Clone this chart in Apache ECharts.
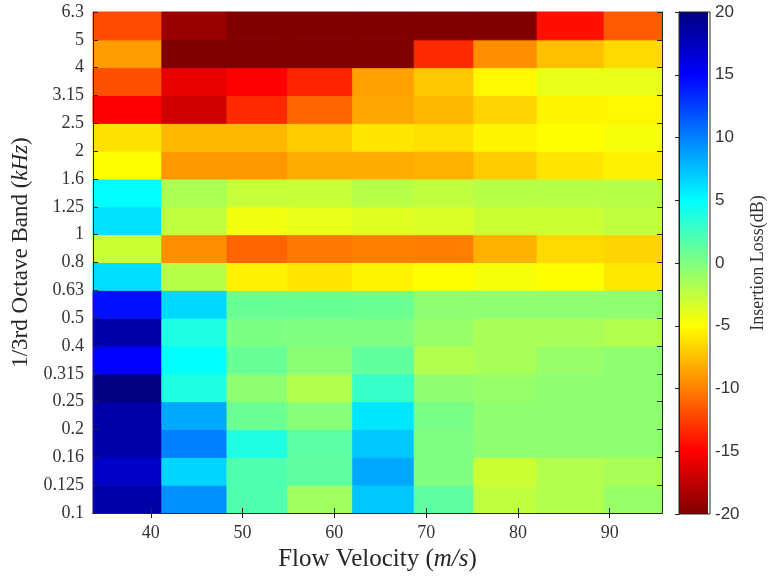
<!DOCTYPE html>
<html>
<head>
<meta charset="utf-8">
<script src="https://cdn.jsdelivr.net/npm/echarts@6/dist/echarts.min.js"></script>
<style>html,body{margin:0;padding:0;background:#fff}#c{width:768px;height:577px}</style>
</head>
<body>
<div id="c"></div>
<script>
// Velocity cell edges (m/s) and 1/3-octave band edge labels (kHz)
const velocityEdges = [33.7, 41.2, 48.3, 54.9, 62.0, 68.7, 75.2, 82.1, 89.4, 95.7];
const bandLabels = ['0.1','0.125','0.16','0.2','0.25','0.315','0.4','0.5','0.63','0.8','1','1.25','1.6','2','2.5','3.15','4','5','6.3'];
const xTickValues = [40, 50, 60, 70, 80, 90];
const colorbarRange = [-20, 20];
// Insertion loss (dB), one row per band (bottom band first), one value per velocity cell
const lossByBand = [
  [18.4,  9.4,   1.9,  -1.3,  7.2,   1.3,  -2.5, -2.0, -0.9],
  [17.2,  6.6,   1.9,   1.3,  8.4,   0.0,  -3.0, -2.0, -1.6],
  [18.4, 10.0,   3.8,   1.4,  7.2,   0.0,  -0.6, -0.6, -0.6],
  [18.4,  8.4,   0.8,  -0.3,  6.0,   0.3,  -0.6, -0.6, -0.6],
  [20.0,  3.8,  -0.6,  -2.0,  2.8,  -0.6,  -0.9, -0.6, -0.6],
  [15.0,  5.0,   0.9,  -0.4,  1.2,  -2.0,  -1.6, -0.9, -0.6],
  [18.4,  3.8,   0.1,   0.0,  0.0,  -0.9,  -1.6, -1.6, -2.0],
  [14.4,  6.5,   0.9,   0.9,  0.8,  -0.6,  -0.6, -0.6, -0.6],
  [ 6.3, -2.2,  -5.5,  -6.0, -5.4,  -5.0,  -4.6, -5.0, -5.9],
  [-3.0, -9.4, -11.1, -10.3, -10.0, -10.1, -8.1, -6.5, -6.7],
  [ 6.2, -2.5,  -4.4,  -4.1, -3.7,  -3.5,  -3.0, -3.0, -2.5],
  [ 5.0, -1.7,  -2.8,  -2.8, -2.2,  -2.5,  -2.2, -2.2, -2.2],
  [-5.0, -9.1,  -9.1,  -8.3, -8.3,  -8.1,  -7.0, -6.0, -5.5],
  [-6.2, -7.8,  -7.8,  -7.0, -6.0,  -6.2,  -5.4, -5.0, -4.6],
  [-15.0,-16.9, -13.4, -11.1, -8.5, -7.8,  -6.7, -5.4, -5.3],
  [-11.9,-15.9, -15.0, -13.6, -8.7, -7.2,  -5.3, -4.1, -4.1],
  [-8.9, -20.0, -20.0, -20.0, -20.0, -13.4, -9.4, -7.5, -6.5],
  [-12.1,-19.0, -20.0, -20.0, -20.0, -20.0, -20.0, -14.4, -11.5]
];
const jetReversed = ['#800000','#ff0000','#ff8000','#ffff00','#80ff80','#00ffff','#0080ff','#0000ff','#000080'];

const cells = [];
lossByBand.forEach((row, r) => {
  row.forEach((v, c) => {
    cells.push([velocityEdges[c], velocityEdges[c + 1], r, r + 1, v]);
  });
});

const AX = '#262626';
const serif = 'Liberation Serif';
const chart = echarts.init(document.getElementById('c'), null, {renderer: 'canvas'});

chart.setOption({
  backgroundColor: '#fff',
  animation: false,
  grid: [
    {left: 93, top: 12, width: 569, height: 502, containLabel: false},
    {left: 679, top: 12, width: 31, height: 502, containLabel: false}
  ],
  visualMap: {
    type: 'continuous', show: false, min: -20, max: 20, dimension: 4,
    seriesIndex: 0, inRange: {color: jetReversed}
  },
  xAxis: [
    {
      gridIndex: 0, type: 'value', min: velocityEdges[0], max: velocityEdges[velocityEdges.length - 1],
      position: 'bottom', z: 10,
      axisLine: {show: true, lineStyle: {color: AX, width: 1}},
      axisTick: {show: true, inside: true, length: 5, customValues: xTickValues, lineStyle: {color: AX}},
      axisLabel: {customValues: xTickValues, fontFamily: serif, fontSize: 18, color: '#333', margin: 11},
      splitLine: {show: false},
      name: '{n|Flow Velocity (}{i|m/s}{n|)}', nameLocation: 'middle', nameGap: 34,
      nameTextStyle: {rich: {
        n: {fontFamily: serif, fontSize: 25, color: '#262626'},
        i: {fontFamily: serif, fontSize: 25, fontStyle: 'italic', color: '#262626'}
      }}
    },
    {
      gridIndex: 0, type: 'value', min: velocityEdges[0], max: velocityEdges[velocityEdges.length - 1],
      position: 'top', z: 10,
      axisLine: {show: true, lineStyle: {color: AX, width: 1}},
      axisTick: {show: true, inside: true, length: 5, customValues: xTickValues, lineStyle: {color: AX}},
      axisLabel: {show: false}, splitLine: {show: false}
    },
    {gridIndex: 1, type: 'value', min: 0, max: 1, show: false}
  ],
  yAxis: [
    {
      gridIndex: 0, type: 'value', min: 0, max: 18, interval: 1, position: 'left', z: 10,
      axisLine: {show: true, lineStyle: {color: AX, width: 1}},
      axisTick: {show: true, inside: true, length: 5, lineStyle: {color: AX}},
      axisLabel: {formatter: v => bandLabels[Math.round(v)], fontFamily: serif, fontSize: 18, color: '#333', margin: 9},
      splitLine: {show: false},
      name: '{n|1/3rd Octave Band (}{i|kHz}{n|)}', nameLocation: 'middle', nameGap: 60,
      nameTextStyle: {padding: [0, 0, 0, 20], rich: {
        n: {fontFamily: serif, fontSize: 23, color: '#262626'},
        i: {fontFamily: serif, fontSize: 23, fontStyle: 'italic', color: '#262626'}
      }}
    },
    {
      gridIndex: 0, type: 'value', min: 0, max: 18, interval: 1, position: 'right', z: 10,
      axisLine: {show: true, lineStyle: {color: AX, width: 1}},
      axisTick: {show: true, inside: true, length: 5, lineStyle: {color: AX}},
      axisLabel: {show: false}, splitLine: {show: false}
    },
    {
      gridIndex: 1, type: 'value', min: colorbarRange[0], max: colorbarRange[1], interval: 5, position: 'right', z: 10,
      axisLine: {show: true, lineStyle: {color: AX, width: 1}},
      axisTick: {show: true, inside: true, length: 4, lineStyle: {color: AX}},
      axisLabel: {fontFamily: 'Liberation Sans', fontSize: 17, color: '#333', margin: 7},
      splitLine: {show: false},
      name: 'Insertion Loss(dB)', nameLocation: 'middle', nameGap: 41,
      nameTextStyle: {fontFamily: serif, fontSize: 18, color: '#333'}
    },
    {
      gridIndex: 1, type: 'value', min: colorbarRange[0], max: colorbarRange[1], interval: 5, position: 'left', z: 10,
      axisLine: {show: true, lineStyle: {color: AX, width: 1}},
      axisTick: {show: false}, axisLabel: {show: false}, splitLine: {show: false}
    }
  ],
  series: [
    {
      type: 'custom', xAxisIndex: 0, yAxisIndex: 0,
      encode: {x: [0, 1], y: [2, 3]},
      renderItem: function (params, api) {
        const p0 = api.coord([api.value(0), api.value(2)]);
        const p1 = api.coord([api.value(1), api.value(3)]);
        const col = api.visual('color');
        return {
          type: 'rect',
          shape: {x: p0[0], y: p1[1], width: p1[0] - p0[0], height: p0[1] - p1[1]},
          style: {fill: col, stroke: col, lineWidth: 1}
        };
      },
      data: cells
    },
    {
      type: 'custom', xAxisIndex: 2, yAxisIndex: 2,
      encode: {x: [0, 1], y: [2, 3]},
      renderItem: function (params, api) {
        const p0 = api.coord([api.value(0), api.value(2)]);
        const p1 = api.coord([api.value(1), api.value(3)]);
        return {
          type: 'rect',
          shape: {x: p0[0], y: p1[1], width: p1[0] - p0[0], height: p0[1] - p1[1]},
          style: {
            fill: {
              type: 'linear', x: 0, y: 1, x2: 0, y2: 0,
              colorStops: jetReversed.map((c, i) => ({offset: i / (jetReversed.length - 1), color: c}))
            }
          }
        };
      },
      data: [[0, 1, colorbarRange[0], colorbarRange[1]]]
    }
  ],
  graphic: [
    {type: 'rect', z: 100, shape: {x: 679, y: 12, width: 31, height: 502}, style: {fill: null, stroke: AX, lineWidth: 1}}
  ]
});
</script>
</body>
</html>
